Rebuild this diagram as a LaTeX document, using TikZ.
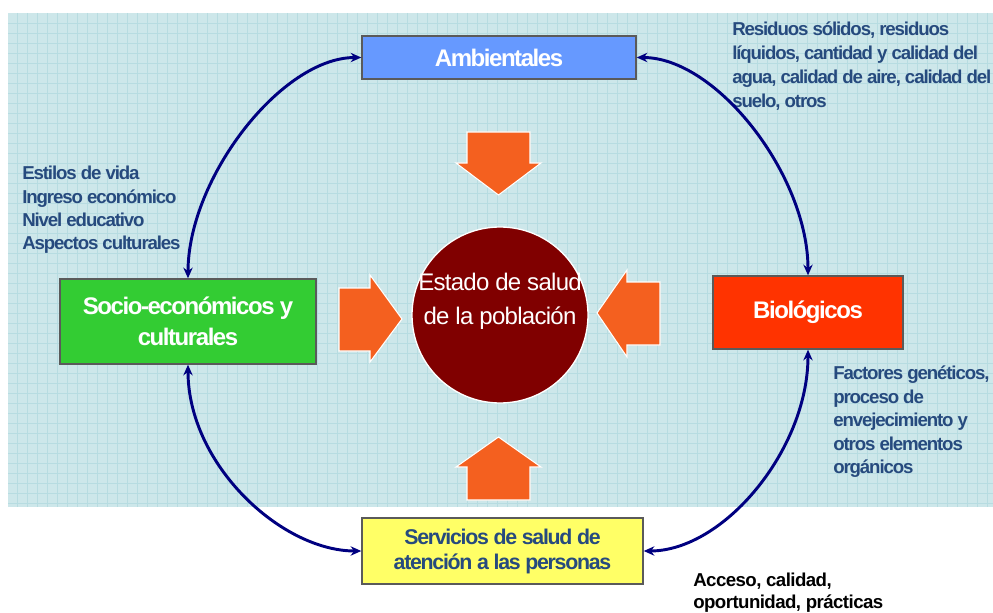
\documentclass[tikz,border=0pt]{standalone}
\usepackage{fontspec}
\setmainfont{Liberation Sans}
\newfontfamily\narrowfont[LetterSpace=-6]{Liberation Sans}
\newfontfamily\popfont[LetterSpace=-3]{Liberation Sans}
\usetikzlibrary{arrows.meta}
\definecolor{gridbg}{HTML}{CDE7EA}
\definecolor{gridline}{HTML}{B7DCE1}
\definecolor{ambblue}{HTML}{6699FF}
\definecolor{socgreen}{HTML}{33CC33}
\definecolor{biored}{HTML}{FF3300}
\definecolor{servyellow}{HTML}{FFFF66}
\definecolor{popred}{HTML}{800000}
\definecolor{pushorange}{HTML}{F4601F}
\definecolor{linknavy}{HTML}{000080}
\definecolor{notecolor}{HTML}{264A7E}
\definecolor{boxgray}{HTML}{5A5A5A}
\begin{document}
\begin{tikzpicture}[x=0.75pt,y=-0.75pt,
    factorbox/.style={draw=boxgray,line width=1pt,inner sep=0pt,align=center,
      font=\narrowfont\bfseries\fontsize{18}{23}\selectfont},
    note/.style={inner sep=0pt,align=left,text=notecolor,
      font=\narrowfont\bfseries\fontsize{14}{17.5}\selectfont},
    push/.style={fill=pushorange,draw=white,line width=0.8pt},
    link/.style={draw=linknavy,line width=2.2pt,
      {Stealth[length=8pt,width=7pt]}-{Stealth[length=8pt,width=7pt]}}]
    \useasboundingbox (0,0) rectangle (993,613);
    % background grid
    \fill[gridbg] (8,13) rectangle (993,507);
    \foreach \gx in {17,27,...,987} \draw[gridline,line width=0.6pt] (\gx,13)--(\gx,507);
    \foreach \gy in {23,33,...,503} \draw[gridline,line width=0.6pt] (8,\gy)--(993,\gy);
    % factors
    \node[factorbox,fill=ambblue,text=white,minimum width=205.5pt,minimum height=32.25pt] (amb) at (499,57.5) {Ambientales};
    \node[factorbox,fill=socgreen,text=white,minimum width=192pt,minimum height=63.75pt] (soc) at (188,321.5) {Socio-económicos y\\culturales};
    \node[factorbox,fill=biored,text=white,minimum width=142.5pt,minimum height=54.75pt] (bio) at (808,312.5) {Biológicos};
    \node[factorbox,fill=servyellow,text=notecolor,font=\narrowfont\bfseries\fontsize{16}{18.75}\selectfont,
      minimum width=210.75pt,minimum height=49.5pt] (serv) at (502.5,551) {Servicios de salud de\\atención a las personas};
    % center
    \node[circle,fill=popred,draw=white,line width=1pt,minimum size=132pt,inner sep=0pt] (pob) at (500,315) {};
    \node[text=white,align=center,font=\popfont\fontsize{18}{25.5}\selectfont] (pobtext) at (500,301) {Estado de salud\\de la población};
    % big arrows
    \filldraw[push] (467,132)--(530,132)--(530,163)--(541,163)--(498.5,195)--(456,163)--(467,163)--cycle;
    \filldraw[push] (467,500)--(530,500)--(530,467)--(541,467)--(498.5,437)--(456,467)--(467,467)--cycle;
    \filldraw[push] (339,288)--(370,288)--(370,275)--(402,319)--(370,362)--(370,351)--(339,351)--cycle;
    \filldraw[push] (660,282)--(627,282)--(627,270)--(597,313)--(627,357)--(627,345)--(660,345)--cycle;
    % notes
    \node[note,anchor=north west] (estilos) at (22,166) {Estilos de vida\\Ingreso económico\\Nivel educativo\\Aspectos culturales};
    \node[note,anchor=north west,font=\narrowfont\bfseries\fontsize{14}{18}\selectfont] (residuos) at (732,22) {Residuos sólidos, residuos\\líquidos, cantidad y calidad del\\agua, calidad de aire, calidad del\\suelo, otros};
    \node[note,anchor=north west,font=\narrowfont\bfseries\fontsize{14}{17.6}\selectfont] (factores) at (833,366) {Factores genéticos,\\proceso de\\envejecimiento y\\otros elementos\\orgánicos};
    \node[note,anchor=north west,text=black,font=\popfont\bfseries\fontsize{14}{16}\selectfont] (acceso) at (693,573) {Acceso, calidad,\\oportunidad, prácticas};
    % links
    \draw[link] (amb.west) .. controls +(-80,0) and +(0,-100) .. (soc.north);
    \draw[link] (amb.east) .. controls +(80,0) and +(0,-100) .. (bio.north);
    \draw[link] (bio.south) .. controls +(0,100) and +(80,0) .. (serv.east);
    \draw[link] (soc.south) .. controls +(0,100) and +(-80,0) .. (serv.west);
\end{tikzpicture}
\end{document}
